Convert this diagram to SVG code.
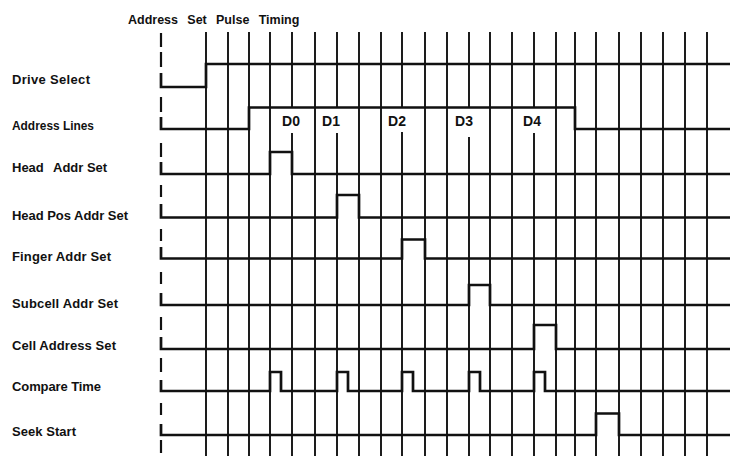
<svg xmlns="http://www.w3.org/2000/svg" width="734" height="465" viewBox="0 0 734 465">
<style>
.t{font-family:"Liberation Sans",Arial,sans-serif;font-weight:bold;fill:#111}
.lbl{font-size:13px}
.ttl{font-size:12.5px;word-spacing:5.8px}
.d{font-size:14px;text-anchor:middle}
.grid line{stroke:#111;stroke-width:1.9}
.wave{fill:none;stroke:#111;stroke-width:2.7;stroke-linejoin:miter}
.dash line{stroke:#111;stroke-width:2.2}
</style>
<rect width="734" height="465" fill="#fff"/>
<g id="title">
<text class="t ttl" x="128" y="24">Address Set Pulse Timing</text>
</g>
<g id="grid" class="grid">
<line x1="206" y1="32" x2="206" y2="456"/>
<line x1="228" y1="32" x2="228" y2="456"/>
<line x1="249" y1="32" x2="249" y2="456"/>
<line x1="270" y1="32" x2="270" y2="456"/>
<line x1="292" y1="32" x2="292" y2="107"/>
<line x1="292" y1="133" x2="292" y2="456"/>
<line x1="315" y1="32" x2="315" y2="456"/>
<line x1="337" y1="32" x2="337" y2="107"/>
<line x1="337" y1="133" x2="337" y2="456"/>
<line x1="359" y1="32" x2="359" y2="456"/>
<line x1="381" y1="32" x2="381" y2="456"/>
<line x1="402" y1="32" x2="402" y2="107"/>
<line x1="402" y1="132" x2="402" y2="456"/>
<line x1="425" y1="32" x2="425" y2="456"/>
<line x1="447" y1="32" x2="447" y2="456"/>
<line x1="469" y1="32" x2="469" y2="107"/>
<line x1="469" y1="137" x2="469" y2="456"/>
<line x1="490" y1="32" x2="490" y2="456"/>
<line x1="512" y1="32" x2="512" y2="456"/>
<line x1="534" y1="32" x2="534" y2="107"/>
<line x1="534" y1="133" x2="534" y2="456"/>
<line x1="556" y1="32" x2="556" y2="456"/>
<line x1="575" y1="32" x2="575" y2="456"/>
<line x1="596" y1="32" x2="596" y2="456"/>
<line x1="619" y1="32" x2="619" y2="456"/>
<line x1="641" y1="32" x2="641" y2="456"/>
<line x1="663" y1="32" x2="663" y2="456"/>
<line x1="685" y1="32" x2="685" y2="456"/>
<line x1="707" y1="32" x2="707" y2="456"/>
</g>
<g id="dashed-ref" class="dash">
<line x1="161" y1="33" x2="161" y2="47"/>
<line x1="161" y1="52" x2="161" y2="67"/>
<line x1="161" y1="97" x2="161" y2="112"/>
<line x1="161" y1="143" x2="161" y2="157"/>
<line x1="161" y1="185" x2="161" y2="197"/>
<line x1="161" y1="229" x2="161" y2="241"/>
<line x1="161" y1="272" x2="161" y2="284"/>
<line x1="161" y1="317" x2="161" y2="330"/>
<line x1="161" y1="358" x2="161" y2="372"/>
<line x1="161" y1="403" x2="161" y2="415"/>
<line x1="161" y1="440" x2="161" y2="453"/>
</g>
<g id="drive-select">
<text class="t lbl" x="12" y="84" textLength="78">Drive Select</text>
<path class="wave" d="M161,73 V87 H206 V64 H730"/>
</g>
<g id="address-lines">
<text class="t lbl" x="12" y="130" textLength="82" lengthAdjust="spacingAndGlyphs">Address Lines</text>
<path class="wave" d="M161,117 V129 H249 V107.5 H575 V129 H730"/>
<text class="t d" x="291" y="126">D0</text>
<text class="t d" x="331" y="126">D1</text>
<text class="t d" x="397" y="126">D2</text>
<text class="t d" x="464" y="126">D3</text>
<text class="t d" x="532" y="126">D4</text>
</g>
<g id="head-addr-set">
<text class="t lbl" y="172"><tspan x="12">Head</tspan><tspan x="53">Addr Set</tspan></text>
<path class="wave" d="M161,162 V174 H270 V152 H292 V174 H730"/>
</g>
<g id="head-pos-addr-set">
<text class="t lbl" x="12" y="220" textLength="116">Head Pos Addr Set</text>
<path class="wave" d="M161,204 V217.5 H337 V195 H359 V217.5 H730"/>
</g>
<g id="finger-addr-set">
<text class="t lbl" x="12" y="261" textLength="99">Finger Addr Set</text>
<path class="wave" d="M161,247 V258.5 H402 V239.5 H425 V258.5 H730"/>
</g>
<g id="subcell-addr-set">
<text class="t lbl" x="12" y="308" textLength="106">Subcell Addr Set</text>
<path class="wave" d="M161,293 V305 H469 V285 H490 V305 H730"/>
</g>
<g id="cell-address-set">
<text class="t lbl" x="12" y="350" textLength="104">Cell Address Set</text>
<path class="wave" d="M161,337 V349 H534 V325 H556 V349 H730"/>
</g>
<g id="compare-time">
<text class="t lbl" x="12" y="391" textLength="89">Compare Time</text>
<path class="wave" d="M161,380 V391 H270 V372 H281 V391 H337 V372 H348 V391 H402 V372 H413 V391 H469 V372 H480 V391 H534 V372 H545 V391 H730"/>
</g>
<g id="seek-start">
<text class="t lbl" x="12" y="436" textLength="64">Seek Start</text>
<path class="wave" d="M161,424 V435 H596 V413.5 H619 V435 H730"/>
</g>
</svg>
